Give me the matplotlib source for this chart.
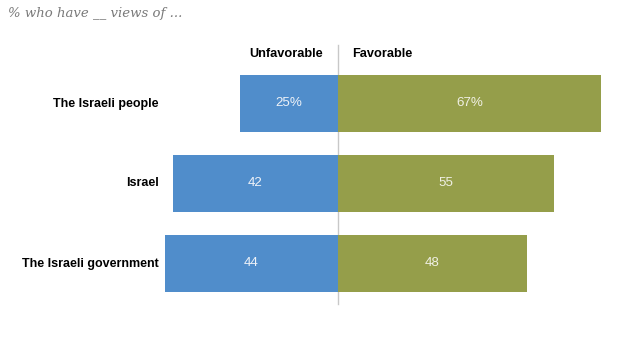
import matplotlib
matplotlib.use("Agg")
import matplotlib.pyplot as plt

# data
items = ["The Israeli people", "Israel", "The Israeli government"]
unfavorable = [25, 42, 44]
favorable = [67, 55, 48]
unfav_labels = ["25%", "42", "44"]
fav_labels = ["67%", "55", "48"]

blue = "#508dcb"
green = "#959e4a"

fig = plt.figure(figsize=(6.4, 3.61), dpi=100)
ax = fig.add_axes([0, 0, 1, 1])

# scale: ~3.93 px per point, zero line at x=338 px; rows 80 px apart
ax.set_xlim(-338 / 3.93, (640 - 338) / 3.93)
ax.set_ylim((361 - 103.5) / 80, -103.5 / 80)
ax.axis("off")

y = list(range(len(items)))
ax.barh(y, [-v for v in unfavorable], height=0.71, color=blue, zorder=2)
ax.barh(y, favorable, height=0.71, color=green, zorder=2)

# center line
ax.plot([0, 0], [-0.73, 2.5], color="#c8c8c8", lw=1, zorder=1)

for i in y:
    ax.text(-unfavorable[i] / 2, i, unfav_labels[i], ha="center", va="center",
            color="#eef2f8", fontsize=9.6, family="Liberation Sans", zorder=3)
    ax.text(favorable[i] / 2, i, fav_labels[i], ha="center", va="center",
            color="#f0f0e4", fontsize=9.6, family="Liberation Sans", zorder=3)
    ax.text(-44 - 1.6, i, items[i], ha="right", va="center",
            color="black", fontsize=9, fontweight="bold", family="Liberation Sans")

# column headers
ax.text(-3.8, -0.615, "Unfavorable", ha="right", va="center", fontsize=9.2,
        fontweight="bold", family="Liberation Sans")
ax.text(3.6, -0.615, "Favorable", ha="left", va="center", fontsize=9.2,
        fontweight="bold", family="Liberation Sans")

fig.text(8 / 640, 1 - 14 / 361, "% who have __ views of ...", ha="left", va="center",
         fontsize=9.5, style="italic", family="DejaVu Serif", color="#7a7a7a")

fig.savefig("out.png", dpi=100)
